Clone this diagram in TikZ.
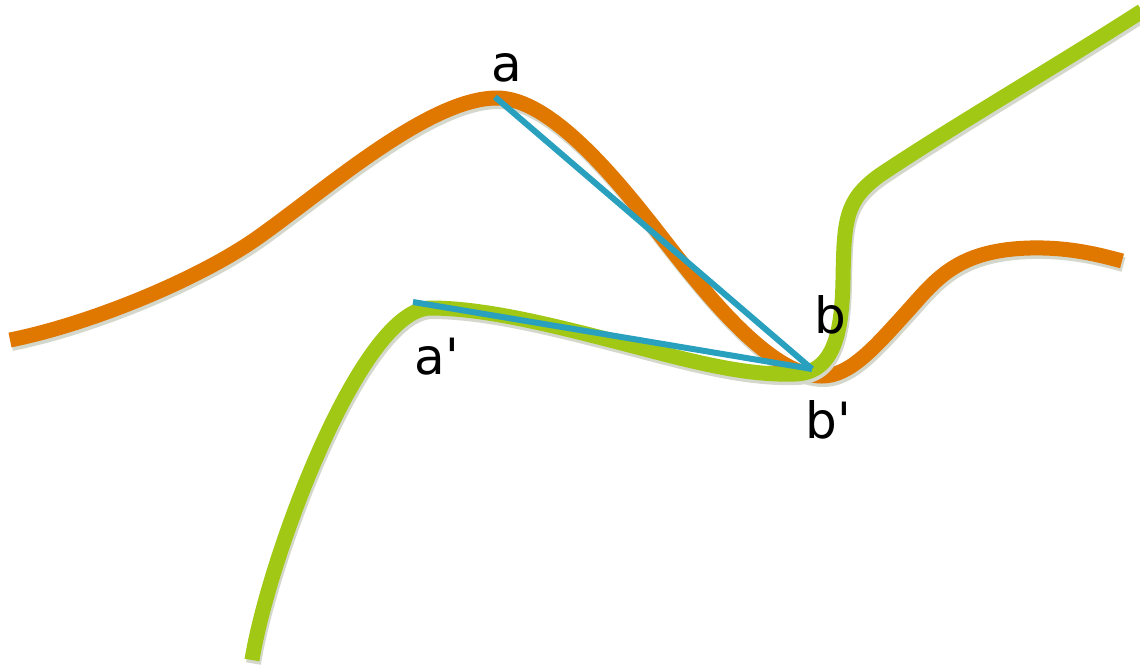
\documentclass[tikz,border=0pt]{standalone}
\usepackage{fontspec}
\setmainfont{DejaVu Sans}
\definecolor{curveorange}{RGB}{224,120,0}
\definecolor{curvegreen}{RGB}{160,200,20}
\definecolor{chordblue}{RGB}{40,160,190}
\definecolor{shadowgray}{RGB}{212,216,204}
\begin{document}
\begin{tikzpicture}[x=1pt,y=-1pt,
  curveline/.style={line width=15pt},
  shadowline/.style={line width=15pt,draw=shadowgray,shift={(1.5,3.5)}},
  chord/.style={line width=6pt,draw=chordblue},
  lbl/.style={font=\fontsize{50}{60}\selectfont,inner sep=0pt}]
\useasboundingbox (0,0) rectangle (1140,664);
\def\orangepath{(10,340) .. controls (90,324) and (200,279) .. (260,236)
  .. controls (330,186) and (430,98) .. (497,98)
  .. controls (550,98) and (615,177) .. (660,235)
  .. controls (705,293) and (770,376) .. (822,376)
  .. controls (850,376) and (875,347) .. (905,314)
  .. controls (935,281) and (955,250) .. (1030,248)
  .. controls (1070,247) and (1100,255) .. (1122,261)}
\def\greenpath{(252,660) .. controls (268,560) and (360,310) .. (430,308)
  .. controls (480,308) and (540,322) .. (610,340)
  .. controls (680,358) and (740,376) .. (795,374)
  .. controls (835,373) and (842,330) .. (843,280)
  .. controls (844,220) and (845,200) .. (880,175)
  .. controls (950,128) and (1050,70) .. (1142,11)}
\draw[shadowline] \orangepath;
\draw[curveline,curveorange] \orangepath;
\draw[shadowline] \greenpath;
\draw[curveline,curvegreen] \greenpath;
\coordinate (a) at (495,97);
\coordinate (b) at (812,369);
\coordinate (ap) at (413,302);
\coordinate (bp) at (812,369);
\draw[chord] (a) -- (b);
\draw[chord] (ap) -- (bp);
\node[lbl] (la) at (507,68) {a};
\node[lbl] (lap) at (437,357) {a\textquotesingle};
\node[lbl] (lb) at (830,315) {b};
\node[lbl] (lbp) at (828,420) {b\textquotesingle};
\end{tikzpicture}
\end{document}
